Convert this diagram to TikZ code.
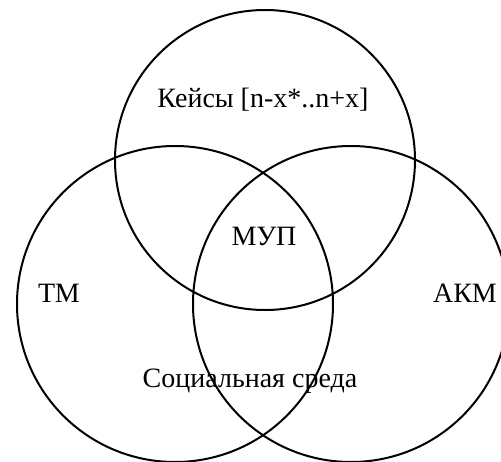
\documentclass[tikz,border=0pt]{standalone}
\usepackage{fontspec}
\setmainfont{Liberation Serif}
\begin{document}
\begin{tikzpicture}[x=1pt,y=-1pt,
  ring/.style={draw=black,line width=2pt,circle,inner sep=0pt,minimum size=#1},
  lbl/.style={font=\fontsize{28}{32}\selectfont,inner sep=0pt}]
\useasboundingbox (0,0) rectangle (501,461);
\node[ring=300pt] (top) at (265,160) {};
\node[ring=316pt] (left) at (175,304) {};
\node[ring=316pt] (right) at (351,304) {};
\node[lbl] (cases) at (263,100) {Кейсы [n-x*..n+x]};
\node[lbl] (mup) at (264,236) {МУП};
\node[lbl] (tm) at (59,293) {ТМ};
\node[lbl] (akm) at (465,293) {АКМ};
\node[lbl] (soc) at (250,381) {Социальная среда};
\end{tikzpicture}
\end{document}
